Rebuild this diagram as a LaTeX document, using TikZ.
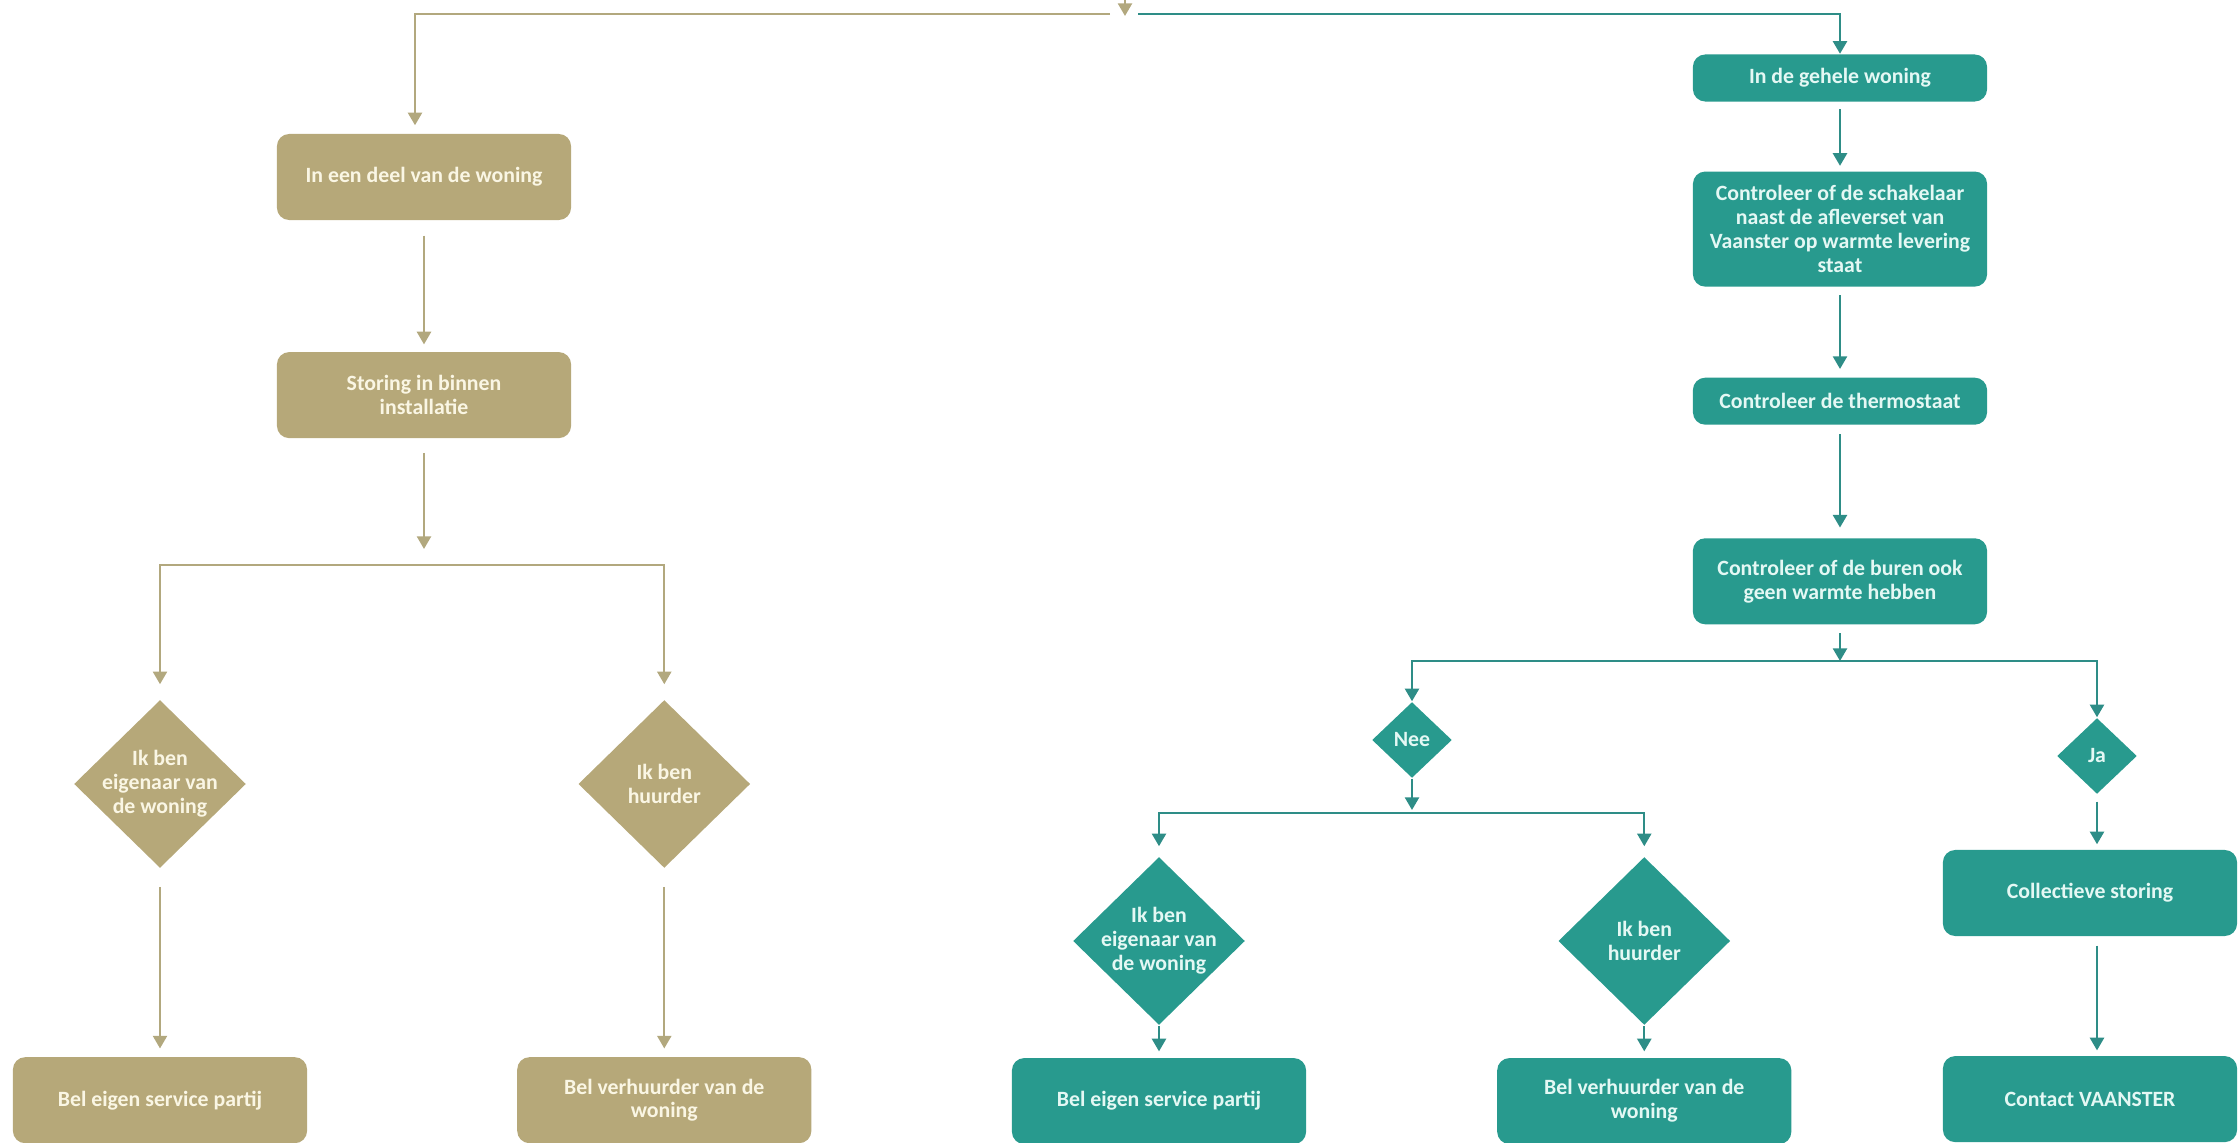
\documentclass[tikz,border=0pt]{standalone}
\usepackage{fontspec}
\setmainfont{Carlito}
\usepackage{xcolor}
\usepackage{tikz}
\usetikzlibrary{positioning}
\usetikzlibrary{shapes.geometric}
\usetikzlibrary{arrows.meta}

\definecolor{tanfill}{RGB}{182,168,121}
\definecolor{tanline}{RGB}{178,168,126}
\definecolor{tealfill}{RGB}{40,154,142}
\definecolor{tealline}{RGB}{46,141,135}
\definecolor{tantext}{RGB}{250,246,228}
\definecolor{tealtext}{RGB}{228,248,244}

\newcommand{\flowfont}{\fontsize{6.2}{6.8}\selectfont\bfseries}

\tikzset{
  flowbox/.style={rectangle, rounded corners=3.5pt, minimum width=2.94cm, minimum height=0.86cm, align=center, inner sep=1pt, font=\flowfont},
  tanbox/.style={flowbox, fill=tanfill, text=tantext},
  tealbox/.style={flowbox, fill=tealfill, text=tealtext},
  flowdia/.style={diamond, inner sep=-4pt, minimum width=1.72cm, minimum height=1.68cm, align=center, font=\flowfont},
  tandia/.style={flowdia, fill=tanfill, text=tantext},
  tealdia/.style={flowdia, fill=tealfill, text=tealtext},
  smalldia/.style={minimum width=0.8cm, minimum height=0.76cm, inner sep=0pt},
  tanlink/.style={line width=0.65pt, draw=tanline},
  teallink/.style={line width=0.65pt, draw=tealline},
  arrowtip/.style={-{Triangle[width=4pt,length=3.6pt]}},
}

\begin{document}
\begin{tikzpicture}[x=0.01cm, y=-0.01cm, node distance=2cm]
\useasboundingbox (0,0) rectangle (2238,1143);

% left branch
\node[tanbox] (deel) at (424,177) {In een deel van de woning};
\node[tanbox, below of=deel, node distance=2.18cm] (binnen) {Storing in binnen\\installatie};
\node[tandia] (eigenL) at (160,784) {Ik ben\\eigenaar van\\de woning};
\node[tandia, right of=eigenL, node distance=5.04cm] (huurL) {Ik ben\\huurder};
\node[tanbox, below of=eigenL, node distance=3.16cm] (serviceL) {Bel eigen service partij};
\node[tanbox, below of=huurL, node distance=3.16cm] (verhuurL) {Bel verhuurder van de\\woning};

% right branch
\node[tealbox, minimum height=0.47cm] (geheel) at (1840,78) {In de gehele woning};
\node[tealbox, minimum height=1.15cm, below of=geheel, node distance=1.51cm] (schakel) {Controleer of de schakelaar\\naast de afleverset van\\Vaanster op warmte levering\\staat};
\node[tealbox, minimum height=0.47cm, below of=schakel, node distance=1.72cm] (thermo) {Controleer de thermostaat};
\node[tealbox, below of=thermo, node distance=1.80cm] (buren) {Controleer of de buren ook\\geen warmte hebben};
\node[tealdia, smalldia] (nee) at (1412,740) {Nee};
\node[tealdia, smalldia] (ja) at (2097,756) {Ja};
\node[tealdia] (eigenR) at (1159,941) {Ik ben\\eigenaar van\\de woning};
\node[tealdia, right of=eigenR, node distance=4.85cm] (huurR) {Ik ben\\huurder};
\node[tealbox, below of=eigenR, node distance=1.6cm] (serviceR) {Bel eigen service partij};
\node[tealbox, below of=huurR, node distance=1.6cm] (verhuurR) {Bel verhuurder van de\\woning};
\node[tealbox] (collectief) at (2090,893) {Collectieve storing};
\node[tealbox, below of=collectief, node distance=2.06cm] (contact) {Contact VAANSTER};

% junctions
\coordinate (src) at (1125,0);
\coordinate (top) at (1125,16);
\coordinate (topL) at (1110,14);
\coordinate (cornL) at (415,14);
\coordinate (topR) at (1138,14);
\coordinate (splitL) at (424,565);
\coordinate (splitR) at (1840,661);
\coordinate (splitN) at (1412,813);

\draw[tanlink, arrowtip] (src) -- (top);
\draw[tanlink, arrowtip, shorten >=0.08cm] (topL) -- (cornL) -- (cornL |- deel.north);
\draw[teallink, arrowtip] (topR) -| (geheel);

\draw[tanlink, arrowtip, shorten <=0.15cm, shorten >=0.07cm] (deel) -- (binnen);
\draw[tanlink, arrowtip, shorten <=0.14cm, shorten >=0.16cm] (binnen) -- (splitL);
\draw[tanlink, arrowtip, shorten >=0.15cm] (splitL) -| (eigenL);
\draw[tanlink, arrowtip, shorten >=0.15cm] (splitL) -| (huurL);
\draw[tanlink, arrowtip, shorten <=0.18cm, shorten >=0.08cm] (eigenL) -- (serviceL);
\draw[tanlink, arrowtip, shorten <=0.18cm, shorten >=0.08cm] (huurL) -- (verhuurL);

\draw[teallink, arrowtip, shorten <=0.07cm, shorten >=0.05cm] (geheel) -- (schakel);
\draw[teallink, arrowtip, shorten <=0.08cm, shorten >=0.08cm] (schakel) -- (thermo);
\draw[teallink, arrowtip, shorten <=0.09cm, shorten >=0.1cm] (thermo) -- (buren);
\draw[teallink, arrowtip, shorten <=0.08cm] (buren) -- (splitR);
\draw[teallink, arrowtip] (splitR) -| (nee);
\draw[teallink, arrowtip] (splitR) -| (ja);
\draw[teallink, arrowtip, shorten >=0.03cm] (nee) -- (splitN);
\draw[teallink, arrowtip, shorten >=0.1cm] (splitN) -| (eigenR);
\draw[teallink, arrowtip, shorten >=0.1cm] (splitN) -| (huurR);
\draw[teallink, arrowtip, shorten >=0.06cm] (eigenR) -- (serviceR);
\draw[teallink, arrowtip, shorten >=0.06cm] (huurR) -- (verhuurR);
\draw[teallink, arrowtip, shorten <=0.07cm, shorten >=0.05cm] (ja) -- (ja |- collectief.north);
\draw[teallink, arrowtip, shorten <=0.09cm, shorten >=0.05cm] (ja |- collectief.south) -- (ja |- contact.north);
\end{tikzpicture}
\end{document}
